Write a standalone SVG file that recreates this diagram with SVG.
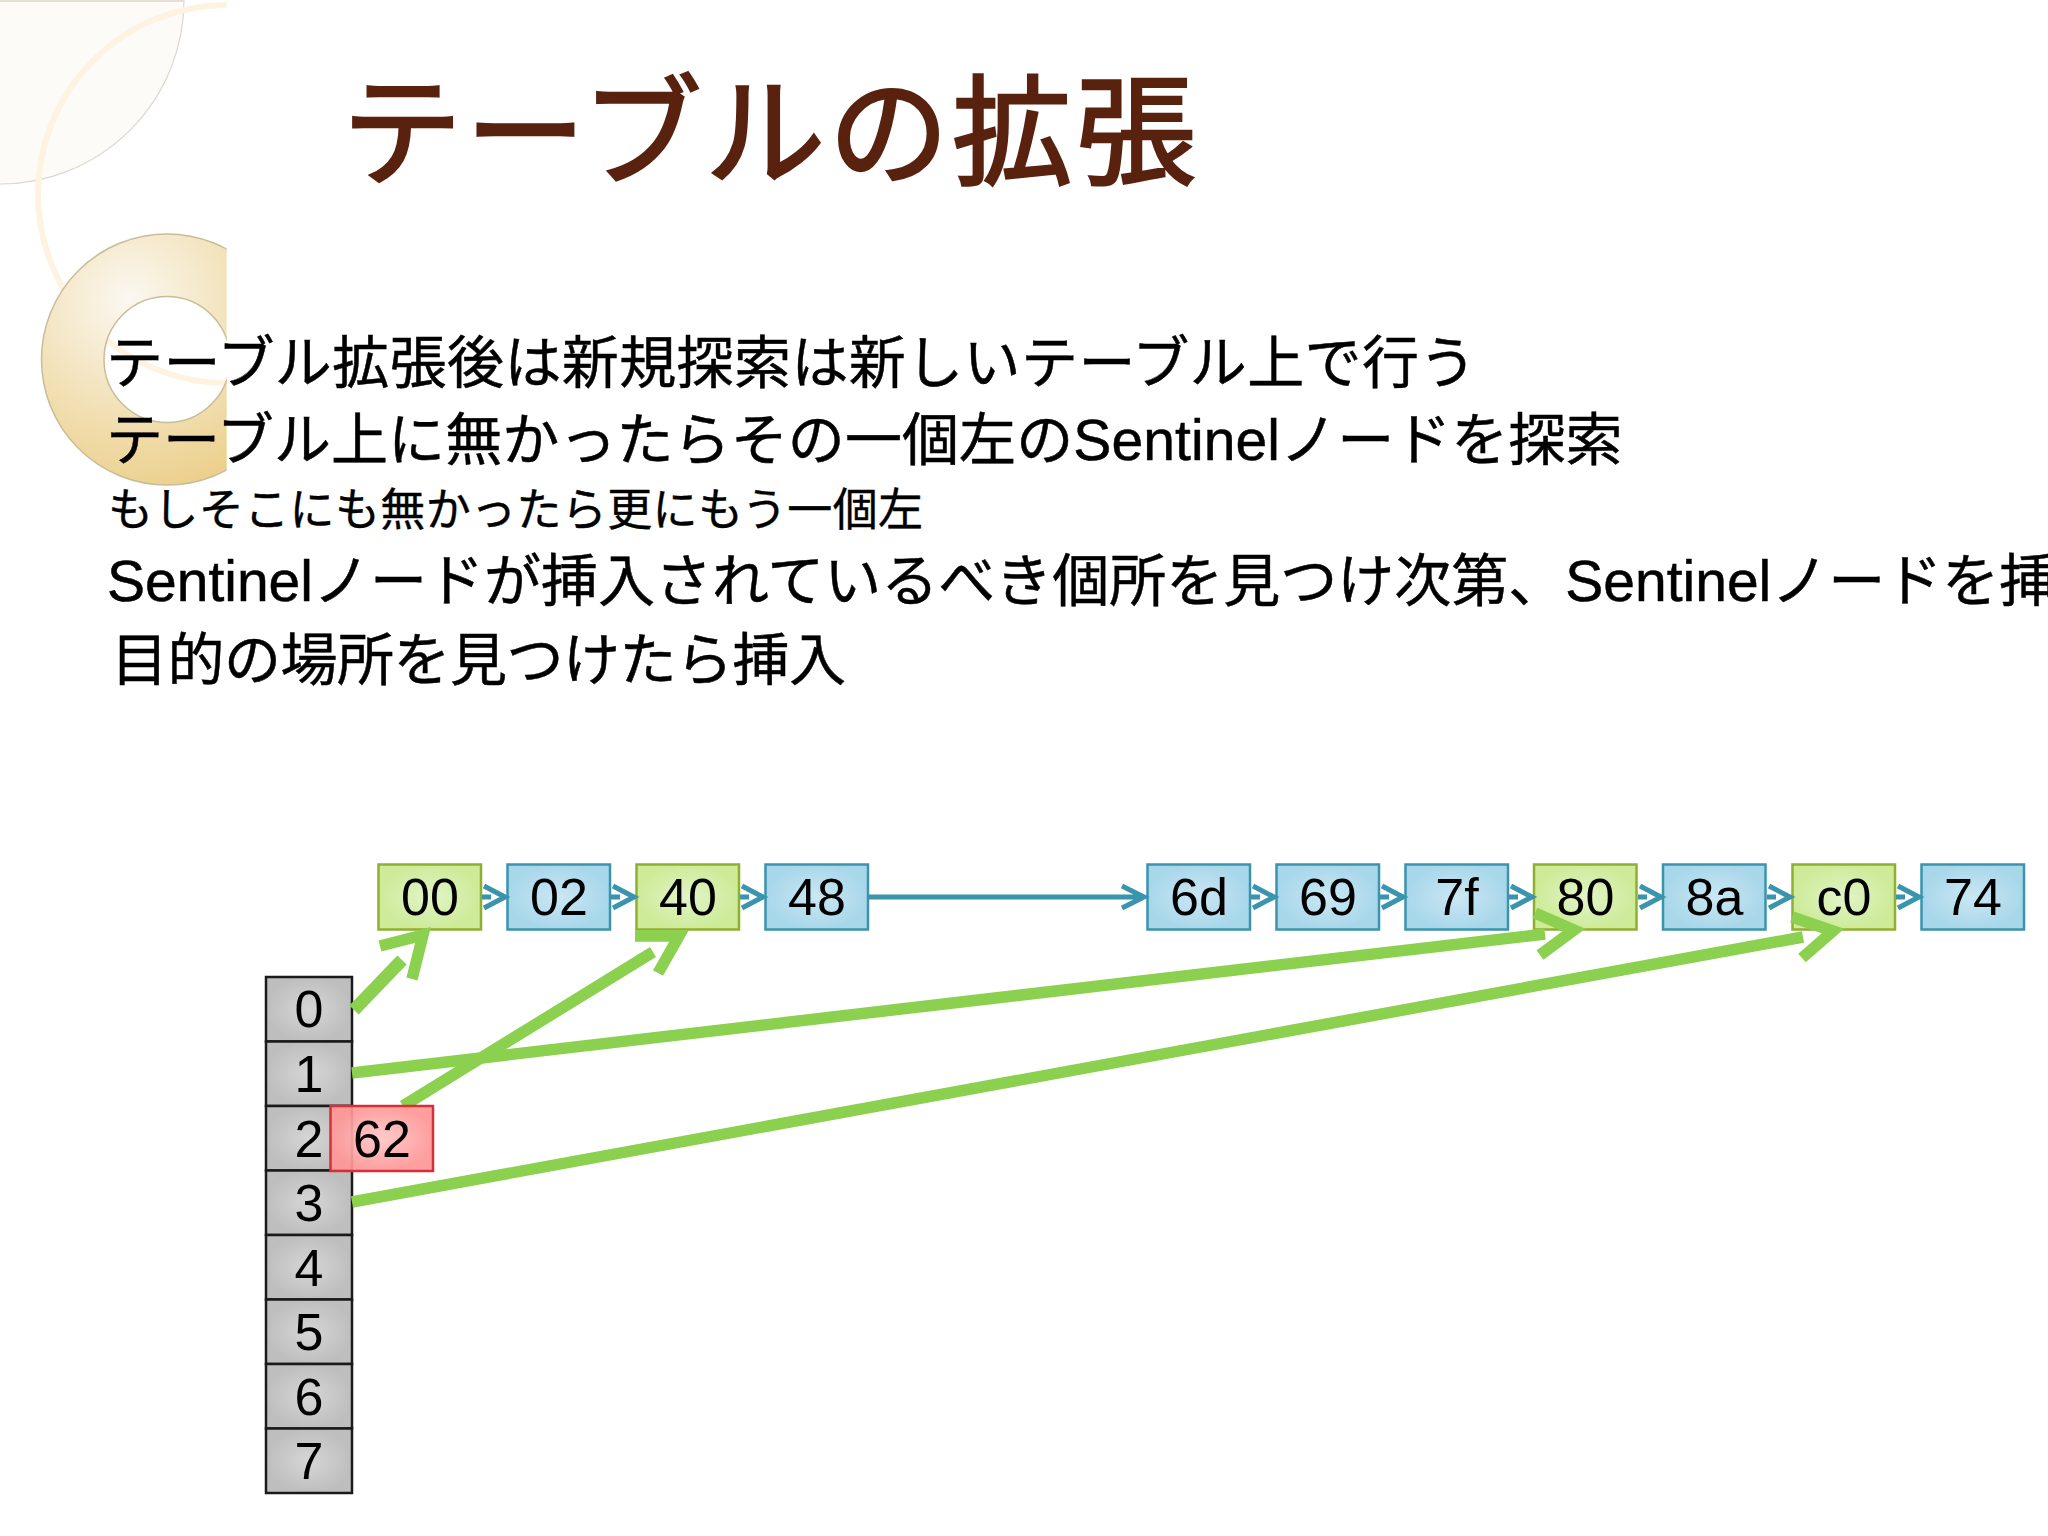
<svg xmlns="http://www.w3.org/2000/svg" width="2048" height="1536" viewBox="0 0 2048 1536">
<style>
.t{font-family:"Liberation Sans","Noto Sans CJK JP",sans-serif;fill:#000}
.title{font-family:"Noto Sans CJK JP",sans-serif;font-size:120px;fill:#58220F;stroke:#58220F;stroke-width:2.5px;letter-spacing:3.5px}
.b{font-size:57px;stroke:#000;stroke-width:.5px}
.s{font-size:45px;letter-spacing:.38px;stroke:#000;stroke-width:.4px}
.n{font-size:52px;text-anchor:middle}
.blue{fill:url(#gb);stroke:#3A94AD;stroke-width:2.5}
.green{fill:url(#gg);stroke:#8FAF30;stroke-width:2.5}
.gray{fill:url(#gc);stroke:#1A1A1A;stroke-width:2.5}
.red{fill:url(#gr);stroke:#D5303A;stroke-width:2.5;fill-opacity:.92}
.lk{fill:none;stroke:#3A94AD;stroke-width:5}
.gk{fill:none;stroke:#8CD04F;stroke-width:11.5}
</style>
<defs>
<radialGradient id="gb"><stop offset="0" stop-color="#CBE7F3"/><stop offset="1" stop-color="#A8D7EA"/></radialGradient>
<radialGradient id="gg"><stop offset="0" stop-color="#E2F4C8"/><stop offset="1" stop-color="#CDEB98"/></radialGradient>
<radialGradient id="gc"><stop offset="0" stop-color="#D6D6D6"/><stop offset="1" stop-color="#BEBEBE"/></radialGradient>
<radialGradient id="gr"><stop offset="0" stop-color="#FFC6C6"/><stop offset="1" stop-color="#FF9696"/></radialGradient>
<radialGradient id="gd" gradientUnits="userSpaceOnUse" cx="130" cy="300" r="200"><stop offset="0" stop-color="#FBF8F1"/><stop offset="1" stop-color="#EBCE88"/></radialGradient>
<clipPath id="cl"><rect x="0" y="0" width="226.7" height="600"/></clipPath>
</defs>
<g id="decor">
<path d="M0 184A184 184 0 0 0 184 0H0Z" fill="#FDFBF8"/>
<path d="M0 184A184 184 0 0 0 184 0" fill="none" stroke="#DDD8CC" stroke-width="1.2"/>
<line x1="0" y1="1" x2="184" y2="1" stroke="#E4E0D4" stroke-width="2"/>
<g clip-path="url(#cl)">
<circle cx="227" cy="194" r="189" fill="none" stroke="#FDF3E0" stroke-width="6"/>
<path fill-rule="evenodd" d="M41.500 359.500a125.500 125.500 0 1 0 251 0a125.500 125.500 0 1 0-251 0ZM104 359.500a63 63 0 1 0 126 0a63 63 0 1 0-126 0Z" fill="url(#gd)" stroke="#C9BC98" stroke-width="1.500"/>
</g>
</g>
<g id="title"><text class="title" x="342" y="176">テーブルの拡張</text></g>
<g id="body">
<text class="t b" x="106" y="383" style="letter-spacing:.4px">テーブル拡張後は新規探索は新しいテーブル上で行う</text>
<text class="t b" x="106" y="460" style="letter-spacing:.1px">テーブル上に無かったらその一個左のSentinelノードを探索</text>
<text class="t s" x="108" y="526">もしそこにも無かったら更にもう一個左</text>
<text class="t b" x="107" y="601">Sentinelノードが挿入されているべき個所を見つけ次第、Sentinelノードを挿入</text>
<text class="t b" x="111" y="680" style="letter-spacing:-.5px">目的の場所を見つけたら挿入</text>
</g>
<g id="node-table">
<g id="cell-0"><rect class="gray" x="266" y="977" width="86" height="64.500"/><text class="t n" x="309" y="1027">0</text></g>
<g id="cell-1"><rect class="gray" x="266" y="1041.500" width="86" height="64.500"/><text class="t n" x="309" y="1092">1</text></g>
<g id="cell-2"><rect class="gray" x="266" y="1106" width="86" height="64.500"/><text class="t n" x="309" y="1157">2</text></g>
<g id="cell-3"><rect class="gray" x="266" y="1170.500" width="86" height="64.500"/><text class="t n" x="309" y="1221">3</text></g>
<g id="cell-4"><rect class="gray" x="266" y="1235" width="86" height="64.500"/><text class="t n" x="309" y="1286">4</text></g>
<g id="cell-5"><rect class="gray" x="266" y="1299.500" width="86" height="64.500"/><text class="t n" x="309" y="1350">5</text></g>
<g id="cell-6"><rect class="gray" x="266" y="1364" width="86" height="64.500"/><text class="t n" x="309" y="1415">6</text></g>
<g id="cell-7"><rect class="gray" x="266" y="1428.500" width="86" height="64.500"/><text class="t n" x="309" y="1479">7</text></g>
</g>
<g id="nodes">
<g id="node-00"><rect class="green" x="378.500" y="864.500" width="102.500" height="65"/><text class="t n" x="430" y="915">00</text></g>
<g id="node-02"><rect class="blue" x="507.500" y="864.500" width="102.500" height="65"/><text class="t n" x="559" y="915">02</text></g>
<g id="node-40"><rect class="green" x="636.500" y="864.500" width="102.500" height="65"/><text class="t n" x="688" y="915">40</text></g>
<g id="node-48"><rect class="blue" x="765.500" y="864.500" width="102.500" height="65"/><text class="t n" x="817" y="915">48</text></g>
<g id="node-6d"><rect class="blue" x="1147.500" y="864.500" width="102.500" height="65"/><text class="t n" x="1199" y="915">6d</text></g>
<g id="node-69"><rect class="blue" x="1276.500" y="864.500" width="102.500" height="65"/><text class="t n" x="1328" y="915">69</text></g>
<g id="node-7f"><rect class="blue" x="1405.500" y="864.500" width="102.500" height="65"/><text class="t n" x="1457" y="915">7f</text></g>
<g id="node-80"><rect class="green" x="1534" y="864.500" width="102.500" height="65"/><text class="t n" x="1585.500" y="915">80</text></g>
<g id="node-8a"><rect class="blue" x="1663" y="864.500" width="102.500" height="65"/><text class="t n" x="1714.500" y="915">8a</text></g>
<g id="node-c0"><rect class="green" x="1792.500" y="864.500" width="102.500" height="65"/><text class="t n" x="1844" y="915">c0</text></g>
<g id="node-74"><rect class="blue" x="1921.500" y="864.500" width="102.500" height="65"/><text class="t n" x="1973" y="915">74</text></g>
</g>
<g id="connectors">
<path class="lk" d="M482 897h9M484 886l21 11l-21 11"/>
<path class="lk" d="M611 897h9M613 886l21 11l-21 11"/>
<path class="lk" d="M740 897h9M742 886l21 11l-21 11"/>
<path class="lk" d="M869 897H1144M1122 886l22 11l-22 11"/>
<path class="lk" d="M1251 897h9M1253 886l21 11l-21 11"/>
<path class="lk" d="M1380 897h9M1382 886l21 11l-21 11"/>
<path class="lk" d="M1509 897h9M1511 886l21 11l-21 11"/>
<path class="lk" d="M1638 897h9M1640 886l21 11l-21 11"/>
<path class="lk" d="M1767 897h9M1769 886l21 11l-21 11"/>
<path class="lk" d="M1896 897h9M1898 886l21 11l-21 11"/>
<path class="gk" style="stroke-width:13" d="M354 1010L402 960"/>
<path class="gk" d="M380 946L423 935L412 979"/>
<path class="gk" d="M403 1106L653 952"/>
<path class="gk" d="M635 936L679 936L658 973"/>
<path class="gk" d="M352 1073L1545 934"/>
<path class="gk" d="M1535 913L1574 930L1540 955"/>
<path class="gk" d="M352 1202L1803 937"/>
<path class="gk" d="M1792 917L1833 931L1802 958"/>
</g>
<g id="node-62"><rect class="red" x="330.500" y="1106" width="102.500" height="65"/><text class="t n" x="382" y="1157">62</text></g>
</svg>
